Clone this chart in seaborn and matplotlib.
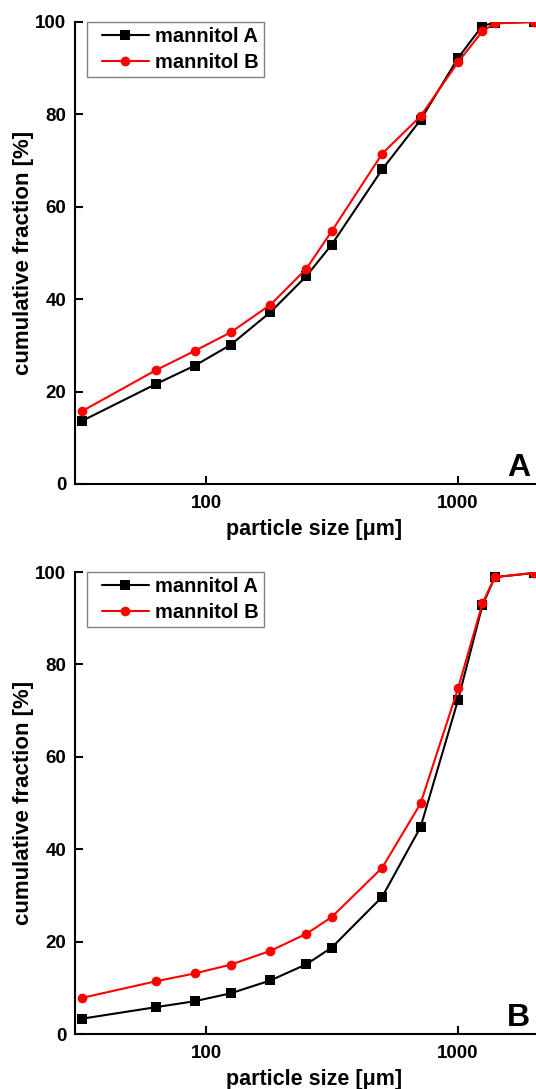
import seaborn as sns
import matplotlib.pyplot as plt
import pandas as pd
from matplotlib.lines import Line2D
from matplotlib.legend_handler import HandlerLine2D
from matplotlib.ticker import FixedLocator, NullLocator, FixedFormatter

# sieve sizes [um]
sizes = [32, 63, 90, 125, 180, 250, 315, 500, 710, 1000, 1250, 1400, 2000]

# panel A: cumulative fraction [%]
a_mannitol_a = [13.6, 21.6, 25.6, 30.1, 37.2, 45.0, 51.8, 68.1, 78.8, 92.2, 99.2, 99.8, 100.0]
a_mannitol_b = [15.7, 24.6, 28.8, 32.8, 38.8, 46.6, 54.7, 71.5, 79.6, 91.3, 98.0, 99.7, 100.0]

# panel B
b_mannitol_a = [3.3, 5.8, 7.1, 8.8, 11.6, 15.1, 18.7, 29.7, 44.8, 72.3, 92.8, 98.9, 99.8]
b_mannitol_b = [7.8, 11.4, 13.1, 15.0, 18.0, 21.7, 25.3, 36.0, 49.9, 74.8, 93.2, 98.9, 99.8]

series_names = ['mannitol A', 'mannitol B']
panel_letters = ['A', 'B']
x_ticks = [100, 1000]
x_ticklabels = ['100', '1000']
y_ticks = [0, 20, 40, 60, 80, 100]

sns.set_theme(style="ticks")
plt.rcParams['font.family'] = ['Liberation Sans', 'DejaVu Sans']
plt.rcParams['font.weight'] = 'bold'
plt.rcParams['axes.labelweight'] = 'bold'
plt.rcParams['axes.linewidth'] = 1.5
plt.rcParams['text.color'] = 'black'
plt.rcParams['axes.labelcolor'] = 'black'
plt.rcParams['axes.edgecolor'] = 'black'


def make_frame(vals_a, vals_b):
    df_a = pd.DataFrame({'size': sizes, 'fraction': vals_a, 'sample': series_names[0]})
    df_b = pd.DataFrame({'size': sizes, 'fraction': vals_b, 'sample': series_names[1]})
    return pd.concat([df_a, df_b], ignore_index=True)


panels = [make_frame(a_mannitol_a, a_mannitol_b), make_frame(b_mannitol_a, b_mannitol_b)]

fig = plt.figure(figsize=(5.36, 10.89), dpi=100)
ax_top = fig.add_axes([0.139, 0.5556, 0.861, 0.4242])
ax_bot = fig.add_axes([0.139, 0.0505, 0.861, 0.4242])

palette = {'mannitol A': 'black', 'mannitol B': 'red'}
markers = {'mannitol A': 's', 'mannitol B': 'o'}

for ax, data, letter in zip([ax_top, ax_bot], panels, panel_letters):
    sns.lineplot(data=data, x='size', y='fraction', hue='sample', style='sample',
                 palette=palette, markers=markers, dashes=False, errorbar=None,
                 linewidth=1.5, markersize=7, markeredgewidth=0, ax=ax)
    ax.set_xscale('log')
    ax.set_xlim(30, 2040)
    ax.set_ylim(0, 100)
    ax.xaxis.set_major_locator(FixedLocator(x_ticks))
    ax.xaxis.set_major_formatter(FixedFormatter(x_ticklabels))
    ax.xaxis.set_minor_locator(NullLocator())
    ax.set_yticks(y_ticks)
    ax.tick_params(direction='in', length=6, width=1.5, labelsize=13.5, colors='black')
    ax.tick_params(axis='x', pad=8)
    ax.tick_params(axis='y', pad=6)
    ax.set_xlabel('particle size [\u03bcm]', fontsize=15.5, labelpad=5)
    ax.xaxis.set_label_coords(0.519, -0.075)
    ax.set_ylabel('cumulative fraction [%]', fontsize=16, labelpad=1)
    sns.despine(ax=ax)
    ax.text(0.987, 0.017, letter, transform=ax.transAxes, ha='right', va='baseline',
            fontsize=23, fontweight='bold')
    sns.move_legend(ax, 'upper left', bbox_to_anchor=(0.028, 1.0), borderaxespad=0,
                    title=None, frameon=True, fancybox=False, edgecolor='#808080',
                    framealpha=1, prop={'size': 14.5, 'weight': 'bold'},
                    handlelength=2.8, handletextpad=0.33, labelspacing=0.35,
                    borderpad=0.25, handler_map={Line2D: HandlerLine2D(xpad=0.45)})
    ax.get_legend().get_frame().set_linewidth(1.0)

fig.savefig('out.png', dpi=100)
